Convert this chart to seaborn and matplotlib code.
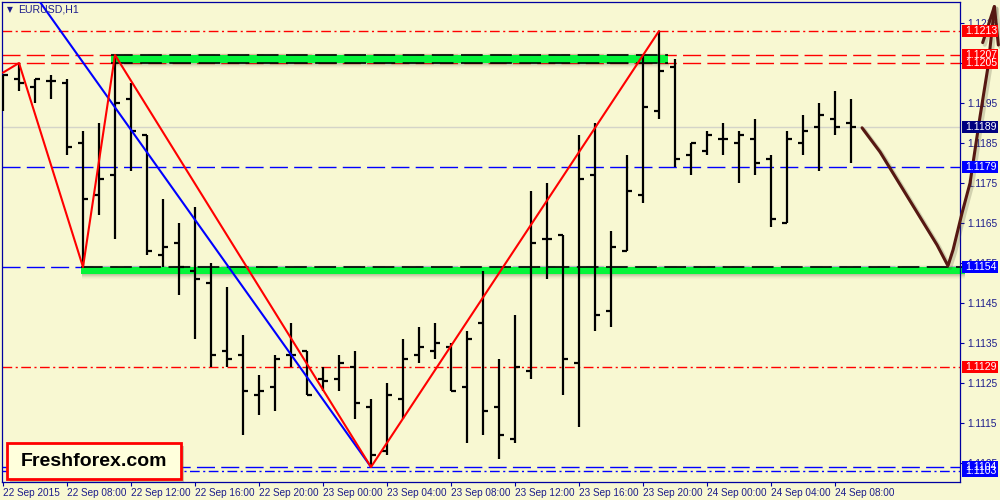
import numpy as np
import pandas as pd
import matplotlib
matplotlib.use("Agg")
import matplotlib.pyplot as plt
import matplotlib.transforms as mtransforms
from matplotlib.patches import Rectangle
import seaborn as sns

# ---------------- data ----------------
symbol_label = "EURUSD,H1"
watermark = "Freshforex.com"

bar_index = list(range(54))
opens = [1.1196, 1.1201, 1.1199, 1.12005, 1.1200, 1.1185, 1.1172, 1.1177, 1.1196, 1.1187,
         1.1157, 1.1160, 1.1153, 1.1150, 1.1133, 1.1132, 1.1122, 1.1124, 1.1132, 1.1133,
         1.1126, 1.1126, 1.1129, 1.1119, 1.1108, 1.1121, 1.1132, 1.1133, 1.1134, 1.1124,
         1.1140, 1.1119, 1.1111, 1.1128, 1.1161, 1.1162, 1.1130, 1.1177, 1.1143, 1.1158,
         1.1172, 1.1193, 1.1204, 1.1182, 1.1183, 1.1186, 1.1185, 1.1186, 1.1181, 1.1165,
         1.1185, 1.1189, 1.1191, 1.1190]
highs = [1.1202, 1.1205, 1.1201, 1.1202, 1.1201, 1.1188, 1.1190, 1.1207, 1.1200, 1.1187,
         1.1171, 1.1165, 1.1169, 1.1155, 1.1149, 1.1137, 1.1127, 1.1132, 1.1140, 1.1133,
         1.1129, 1.1132, 1.1133, 1.1121, 1.1125, 1.1136, 1.1139, 1.1140, 1.1135, 1.1138,
         1.1153, 1.1131, 1.1142, 1.1173, 1.1175, 1.1162, 1.1187, 1.1190, 1.1163, 1.1182,
         1.1207, 1.1213, 1.1206, 1.1185, 1.1188, 1.1190, 1.1188, 1.1191, 1.1182, 1.1188,
         1.1192, 1.1195, 1.1198, 1.1196]
lows = [1.1193, 1.1198, 1.1195, 1.1196, 1.1182, 1.1154, 1.1167, 1.1161, 1.1178, 1.1157,
        1.1154, 1.1147, 1.1136, 1.1129, 1.1129, 1.1112, 1.1117, 1.1118, 1.1129, 1.1122,
        1.1123, 1.1123, 1.1116, 1.1104, 1.1107, 1.1116, 1.1130, 1.1131, 1.1123, 1.1110,
        1.1112, 1.1106, 1.1110, 1.1126, 1.1151, 1.1122, 1.1114, 1.1138, 1.1139, 1.1158,
        1.1170, 1.1191, 1.1179, 1.1177, 1.1182, 1.1182, 1.1175, 1.1177, 1.1164, 1.1165,
        1.1182, 1.1178, 1.1187, 1.1180]
closes = [1.1202, 1.1200, 1.1201, 1.12005, 1.1184, 1.1171, 1.1176, 1.1195, 1.1188, 1.1158,
          1.1159, 1.1154, 1.1151, 1.1132, 1.1131, 1.1123, 1.1123, 1.1131, 1.1132, 1.1122,
          1.11255, 1.1130, 1.1120, 1.1107, 1.1122, 1.1131, 1.1134, 1.1135, 1.1123, 1.1136,
          1.1118, 1.1112, 1.1129, 1.1160, 1.1161, 1.1131, 1.1176, 1.1142, 1.1159, 1.1173,
          1.1194, 1.1203, 1.1181, 1.1185, 1.1187, 1.1186, 1.1187, 1.1180, 1.1166, 1.1186,
          1.1188, 1.1192, 1.1189, 1.1189]

time_label_bars = [0, 4, 8, 12, 16, 20, 24, 28, 32, 36, 40, 44, 48, 52]
time_labels = ["22 Sep 2015", "22 Sep 08:00", "22 Sep 12:00", "22 Sep 16:00", "22 Sep 20:00",
               "23 Sep 00:00", "23 Sep 04:00", "23 Sep 08:00", "23 Sep 12:00", "23 Sep 16:00",
               "23 Sep 20:00", "24 Sep 00:00", "24 Sep 04:00", "24 Sep 08:00"]
price_ticks = [1.1105, 1.1115, 1.1125, 1.1135, 1.1145, 1.1155, 1.1165, 1.1175,
               1.1185, 1.1195, 1.1205, 1.1215]

zigzag_bars = [0, 1, 5, 7, 23, 41]
zigzag_prices = [1.12026, 1.1205, 1.1154, 1.1207, 1.1104, 1.1213]

trend_bars = [2, 23]
trend_prices = [1.1222, 1.1104]

forecast_bars = [53.69, 54.81, 58.38, 59.06, 59.38, 59.94, 60.44, 61.06, 61.56, 61.88, 61.96]
forecast_prices = [1.11888, 1.11828, 1.11595, 1.11543, 1.11583, 1.11675, 1.1175, 1.11915,
                   1.1204, 1.12158, 1.12191]
arrowhead_bars = [61.23, 61.96, 62.21]
arrowhead_prices = [1.12101, 1.12191, 1.12095]

levels = [1.1213, 1.1207, 1.1205, 1.1189, 1.1179, 1.1154, 1.1129, 1.1104, 1.1103]
level_colors = ["#ff0000", "#ff0000", "#ff0000", "#d4d4c8", "#0000ff", "#0000ff", "#ff0000", "#0000ff", "#0000ff"]
level_styles = ["dashdot", "dashed", "dashed", "solid", "dashed", "dashed", "dashdot", "dashed", "dashdot"]
label_box_colors = ["#ff0000", "#ff0000", "#ff0000", "#000080", "#0000ff", "#0000ff", "#ff0000", "#0000ff", "#0000ff"]

zone_upper_bars = [6.75, 41.55]
zone_upper_prices = [1.1205, 1.1207]
zone_lower_bars = [4.875, 60.1]
zone_lower_prices = [1.11522, 1.1154]

# ---------------- style ----------------
bg = "#f8f8d2"
navy = "#1c1c8c"
sns.set_theme(style="white", rc={"axes.facecolor": bg, "figure.facecolor": bg})
plt.rcParams["font.family"] = ["Liberation Sans", "DejaVu Sans"]

fig = plt.figure(figsize=(10, 5), dpi=100, facecolor=bg)
ax = fig.add_axes([0.002, 0.036, 0.958, 0.96])
ax.set_facecolor(bg)
ax.set_xlim(-0.0625, 59.8125)
ax.set_ylim(1.110025, 1.122025)

dash = (0, (13, 4.5))
dashdot = (0, (7, 2.5, 1.5, 2.5))
style_map = {"dashed": dash, "dashdot": dashdot, "solid": "-"}

# level lines
for lvl, col, st in zip(levels, level_colors, level_styles):
    ax.axhline(lvl, color=col, lw=1.0, ls=style_map[st], zorder=1)

# zones (green bands with shadow)
def zone(xb, yp, top_dash=True, bottom_dash=True):
    x0, x1 = xb
    y0, y1 = yp
    for i, a in enumerate([0.30, 0.22, 0.14, 0.07, 0.03]):
        ax.add_patch(Rectangle((x0 + 0.05, y0 - 0.000025 * (i + 1)), x1 - x0, 0.000025,
                               facecolor="#4a4a30", alpha=a, edgecolor="none",
                               clip_on=False, zorder=1.5))
    for i, a in enumerate([0.12, 0.05]):
        ax.add_patch(Rectangle((x0, y1 + 0.000025 * i), x1 - x0, 0.000025,
                               facecolor="#4a4a30", alpha=a, edgecolor="none",
                               clip_on=False, zorder=1.5))
    ax.add_patch(Rectangle((x0, y0), x1 - x0, y1 - y0, facecolor="#05f53a",
                           edgecolor="none", clip_on=False, zorder=2))
    if top_dash:
        ax.hlines(y1, x0, x1, colors="black", lw=1.2, linestyles=[dash], zorder=2.1, clip_on=False)
    if bottom_dash:
        ax.hlines(y0, x0, x1, colors="black", lw=1.2, linestyles=[dash], zorder=2.1, clip_on=False)

zone(zone_upper_bars, zone_upper_prices)
zone(zone_lower_bars, zone_lower_prices, bottom_dash=False)

# OHLC bars
df = pd.DataFrame({"bar": bar_index, "open": opens, "high": highs, "low": lows, "close": closes})
tick = 0.3
ax.vlines(df["bar"], df["low"], df["high"], colors="black", lw=1.6, zorder=3)
ax.hlines(df["open"], df["bar"] - tick, df["bar"], colors="black", lw=1.6, zorder=3)
ax.hlines(df["close"], df["bar"], df["bar"] + tick, colors="black", lw=1.6, zorder=3)

# zigzag and trend line
sns.lineplot(x=trend_bars, y=trend_prices, ax=ax, color="#0000ff", lw=1.5, sort=False,
             estimator=None, legend=False, zorder=4)
sns.lineplot(x=zigzag_bars, y=zigzag_prices, ax=ax, color="#ff0000", lw=1.5, sort=False,
             estimator=None, legend=False, zorder=4)

# hand-drawn forecast arrow with soft shadow
shadow_tr = mtransforms.offset_copy(ax.transData, fig=fig, x=1.5, y=-1.5, units="points")
for bx, by in [(forecast_bars, forecast_prices), (arrowhead_bars, arrowhead_prices)]:
    sns.lineplot(x=bx, y=by, ax=ax, color="#4a4a35", lw=3.0, alpha=0.22, sort=False,
                 estimator=None, legend=False, zorder=6)
    ax.lines[-1].set_transform(shadow_tr)
    ax.lines[-1].set_clip_on(False)
    sns.lineplot(x=bx, y=by, ax=ax, color="#561812", lw=2.2, sort=False,
                 estimator=None, legend=False, zorder=7)
    ax.lines[-1].set_clip_on(False)
    ax.lines[-1].set_solid_capstyle("round")
    ax.lines[-1].set_solid_joinstyle("round")

# axes styling
for sp in ax.spines.values():
    sp.set_color("#0000a0")
    sp.set_linewidth(0.9)
    sp.set_visible(True)
ax.yaxis.tick_right()
ax.set_yticks(price_ticks)
ax.set_yticklabels([f"{p:.4f}" for p in price_ticks])
ax.tick_params(axis="y", which="both", left=False, right=True, labelleft=False, labelright=True,
               direction="out", length=3, width=0.8, color="#0000a0", labelsize=7.3,
               labelcolor=navy, pad=2)
ax.set_xticks(time_label_bars)
ax.set_xticklabels(time_labels, ha="left")
ax.tick_params(axis="x", direction="out", length=3, width=0.8, color="#0000a0",
               labelsize=7.2, labelcolor=navy, pad=1.5, bottom=True)
ax.set_xlabel("")
ax.set_ylabel("")
ax.grid(False)

# price label boxes on right axis
blend = mtransforms.blended_transform_factory(ax.transAxes, ax.transData)
for lvl, col in zip(levels, label_box_colors):
    ax.add_patch(Rectangle((1.0021, lvl - 0.00015), 0.0376, 0.0003, transform=blend,
                           facecolor=col, edgecolor="none", clip_on=False, zorder=8))
    ax.text(1.0055, lvl, f"{lvl:.4f}", transform=blend, color="white", fontsize=7.6,
            va="center", ha="left", clip_on=False, zorder=9)

# symbol title
fig.text(0.007, 0.981, "\u25bc", fontsize=5.5, color=navy, va="center", ha="left",
         family=["DejaVu Sans"])
fig.text(0.018, 0.981, symbol_label, fontsize=7.6, color=navy, va="center", ha="left")

# watermark box
fig.patches.append(Rectangle((0.010, 0.036), 0.174, 0.072, transform=fig.transFigure,
                             facecolor="#6b6b55", alpha=0.35, edgecolor="none", zorder=10))
fig.patches.append(Rectangle((0.007, 0.042), 0.174, 0.072, transform=fig.transFigure,
                             facecolor="#ffffdc", edgecolor="#ff0000", lw=2.0, zorder=11))
fig.text(0.094, 0.078, watermark, fontsize=14, fontweight="bold", color="black",
         ha="center", va="center", zorder=12)

fig.savefig("out.png", dpi=100, facecolor=bg)
